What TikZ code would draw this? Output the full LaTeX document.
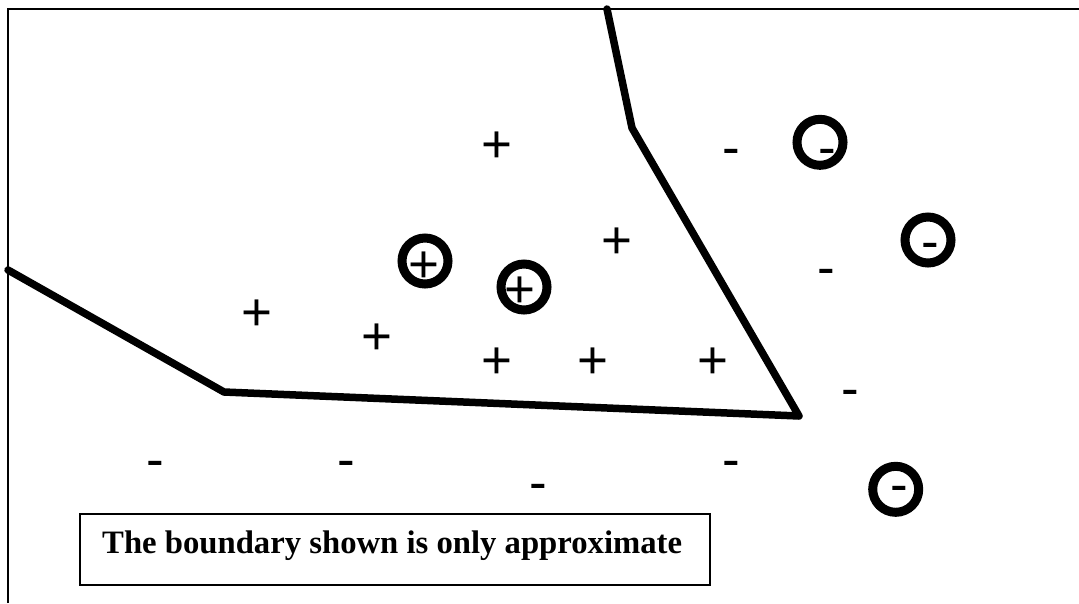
\documentclass[tikz,border=0pt]{standalone}
\usepackage{fontspec}
\setmainfont{Liberation Serif}
\newfontfamily\signfont{Liberation Sans}
\begin{document}
\begin{tikzpicture}[x=1pt,y=-1pt,
  frameline/.style={line width=2.6pt, black},
  boundary/.style={line width=7.5pt, line join=round, line cap=round},
  sign/.style={font=\signfont\fontsize{53}{60}\selectfont, inner sep=0pt, anchor=base},
  ring/.style={circle, draw, line width=9pt, minimum size=46pt, inner sep=0pt},
  notebox/.style={draw, line width=1.8pt, minimum width=630pt, minimum height=71pt, anchor=north west, inner sep=0pt},
  note/.style={font=\bfseries\fontsize{32.7}{38}\selectfont, anchor=base west, inner sep=0pt}]
\useasboundingbox (0,0) rectangle (1079,603);
% frame
\coordinate (fbl) at (8,603);
\coordinate (ftl) at (8,9);
\coordinate (ftr) at (1079,9);
\draw[frameline] (fbl) -- (ftl) -- (ftr);
% boundary
\coordinate (b1) at (607,9);
\coordinate (b2) at (632,128);
\coordinate (b3) at (799,416);
\coordinate (b4) at (224,392);
\coordinate (b5) at (8,270);
\draw[boundary] (b1) -- (b2) -- (b3) -- (b4) -- (b5);
% plus signs (baseline = centre + 18.7)
\node[sign] (p1) at (496.7,162.7) {+};
\node[sign] (p2) at (616.7,258.7) {+};
\node[sign] (p3) at (256.7,330.7) {+};
\node[sign] (p4) at (376.7,354.4) {+};
\node[sign] (p5) at (496.7,378.7) {+};
\node[sign] (p6) at (592.7,378.7) {+};
\node[sign] (p7) at (712.7,378.7) {+};
% circled plus
\node[ring] (cp1) at (425,261) {};
\node[sign] (cp1s) at (424.3,282) {+};
\node[ring] (cp2) at (524,287) {};
\node[sign] (cp2s) at (520,307.7) {+};
% minus signs (baseline = centre + 16.7)
\node[sign] (m1) at (731,165.7) {-};
\node[sign] (m2) at (826.7,285.7) {-};
\node[sign] (m3) at (850.7,406) {-};
\node[sign] (m4) at (155,477.7) {-};
\node[sign] (m5) at (346,477.7) {-};
\node[sign] (m6) at (538,500.7) {-};
\node[sign] (m7) at (731,477.7) {-};
% circled minus
\node[ring] (cm1) at (820,142.3) {};
\node[sign] (cm1s) at (827,165.7) {-};
\node[ring] (cm2) at (928,240) {};
\node[sign] (cm2s) at (930,259.7) {-};
\node[ring] (cm3) at (895.7,489.3) {};
\node[sign] (cm3s) at (899,502) {-};
% note
\node[notebox] (box) at (79,513) {};
\node[note] (txt) at (102,553) {The boundary shown is only approximate};
\end{tikzpicture}
\end{document}
